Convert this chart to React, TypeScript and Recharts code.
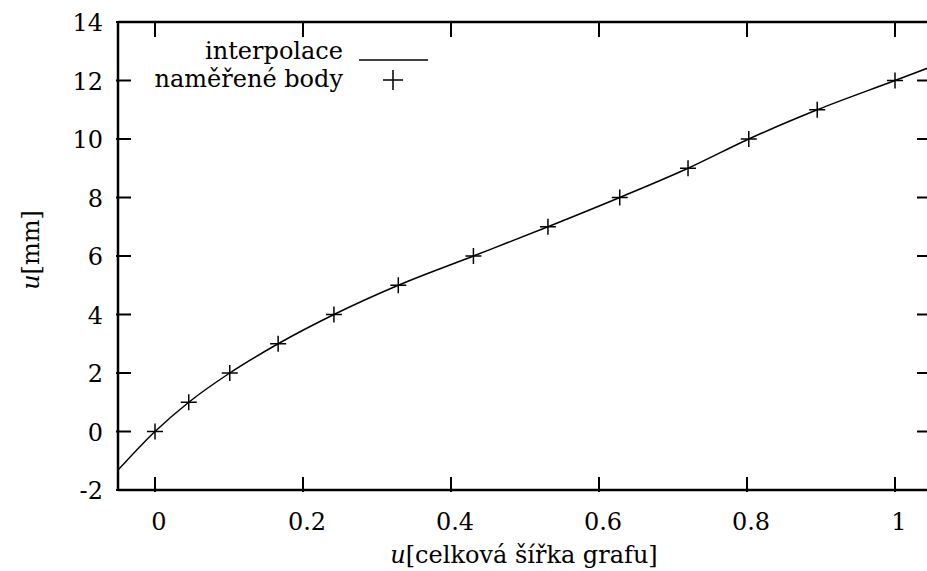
import React from 'react';
import { ComposedChart, Line, Scatter, XAxis, YAxis, ReferenceLine } from 'recharts';

// measured points (x = fraction of graph width, y = mm)
const pointX = [0, 0.0456, 0.101, 0.1664, 0.2418, 0.3288, 0.4303, 0.531, 0.628, 0.7203, 0.8024, 0.8949, 1.0];
const pointY = [0, 1, 2, 3, 4, 5, 6, 7, 8, 9, 10, 11, 12];

// where the interpolation curve leaves the plot on both sides
const curveStart = { x: -0.05, y: -1.32 };
const curveEnd = { x: 1.05, y: 12.48 };

const xTicks = [0, 0.2, 0.4, 0.6, 0.8, 1];
const yTicks = [-2, 0, 2, 4, 6, 8, 10, 12, 14];

const points = pointX.map((x, i) => ({ x, y: pointY[i] }));
const curve = [curveStart, ...points, curveEnd];

const FONT = '"DejaVu Serif", serif';
const W = 932;
const H = 571;
const TOP = 22;
const LEFT = 118;
const RIGHT = W;
const TICK = 15;

const BottomTick = (props: any) => {
  const { x, y, payload } = props;
  return (
    <g>
      <line x1={x} x2={x} y1={y} y2={y - TICK} stroke="#000" strokeWidth={2} />
      <line x1={x} x2={x} y1={TOP} y2={TOP + TICK} stroke="#000" strokeWidth={2} />
      <text x={x + 4} y={y + 38} textAnchor="middle" fontFamily={FONT} fontSize={24} fill="#000">
        {String(payload.value)}
      </text>
    </g>
  );
};

const LeftTick = (props: any) => {
  const { x, y, payload } = props;
  return (
    <g>
      <line x1={x} x2={x + TICK} y1={y} y2={y} stroke="#000" strokeWidth={2} />
      <line x1={RIGHT} x2={RIGHT - TICK} y1={y} y2={y} stroke="#000" strokeWidth={2} />
      <text x={x - 13} y={y + 9} textAnchor="end" fontFamily={FONT} fontSize={24} fill="#000">
        {String(payload.value)}
      </text>
    </g>
  );
};

const Plus = (props: any) => {
  const { cx, cy } = props;
  const s = 8;
  return (
    <g stroke="#000" strokeWidth={1.5}>
      <line x1={cx - s} x2={cx + s} y1={cy} y2={cy} />
      <line x1={cx} x2={cx} y1={cy - s} y2={cy + s} />
    </g>
  );
};

export default function App() {
  return (
    <div style={{ position: 'relative', width: 927, height: H, overflow: 'hidden', background: '#fff' }}>
      <style>{'body{margin:0}'}</style>
      <ComposedChart
        width={W}
        height={H}
        data={curve}
        margin={{ top: TOP, right: 0, bottom: 21, left: LEFT - 90 }}
      >
        <XAxis
          dataKey="x"
          type="number"
          domain={[-0.05, 1.05]}
          ticks={xTicks}
          allowDataOverflow
          height={60}
          tickSize={0}
          tickLine={false}
          tick={BottomTick}
          axisLine={{ stroke: '#000', strokeWidth: 2.5 }}
        />
        <YAxis
          dataKey="y"
          type="number"
          domain={[-2, 14]}
          ticks={yTicks}
          allowDataOverflow
          width={90}
          tickSize={0}
          tickLine={false}
          tick={LeftTick}
          axisLine={{ stroke: '#000', strokeWidth: 2.5 }}
        />
        <ReferenceLine y={14} stroke="#000" strokeWidth={2.5} />
        <Line
          data={curve}
          dataKey="y"
          type="monotone"
          stroke="#000"
          strokeWidth={1.5}
          dot={false}
          isAnimationActive={false}
        />
        <Scatter data={points} dataKey="y" shape={Plus} isAnimationActive={false} />
      </ComposedChart>
      <svg
        width={927}
        height={H}
        style={{ position: 'absolute', left: 0, top: 0, pointerEvents: 'none' }}
      >
        <text x={343} y={59} textAnchor="end" fontFamily={FONT} fontSize={24} fill="#000">
          interpolace
        </text>
        <line x1={359} x2={428} y1={60} y2={60} stroke="#000" strokeWidth={1.5} />
        <text x={343} y={87} textAnchor="end" fontFamily={FONT} fontSize={24} fill="#000">
          naměřené body
        </text>
        <g stroke="#000" strokeWidth={1.5}>
          <line x1={383} x2={403} y1={80} y2={80} />
          <line x1={393} x2={393} y1={70} y2={90} />
        </g>
        <text x={524} y={563} textAnchor="middle" fontFamily={FONT} fontSize={24} fill="#000">
          <tspan fontStyle="italic">u</tspan>[celková šířka grafu]
        </text>
        <text
          x={39}
          y={250}
          textAnchor="middle"
          fontFamily={FONT}
          fontSize={24}
          fill="#000"
          transform="rotate(-90 39 250)"
        >
          <tspan fontStyle="italic">u</tspan>[mm]
        </text>
      </svg>
    </div>
  );
}
